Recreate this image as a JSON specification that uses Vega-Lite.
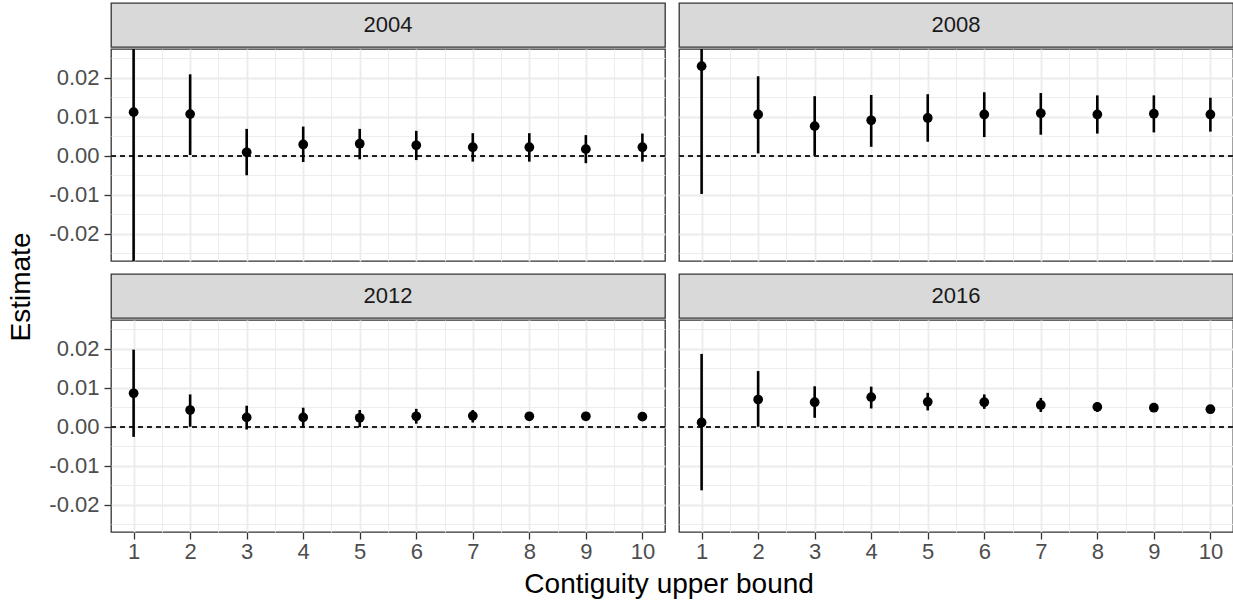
{
  "$schema": "https://vega.github.io/schema/vega-lite/v6.json",
  "padding": {"left": 8, "top": 2, "right": 1, "bottom": 0},
  "background": "white",
  "config": {"font": "Liberation Sans", "view": {"stroke": null}},
  "title": {"text": "Contiguity upper bound", "orient": "bottom", "anchor": "middle", "dx": 48, "offset": 8, "fontSize": 28, "font": "Liberation Sans", "fontWeight": "normal", "color": "black"},
  "datasets": {
    "est": [
      {"year": "2004", "x": 1, "est": 0.0112, "lo": -0.0289, "hi": 0.0513},
      {"year": "2004", "x": 2, "est": 0.0107, "lo": 0.0002, "hi": 0.0209},
      {"year": "2004", "x": 3, "est": 0.0009, "lo": -0.0050, "hi": 0.0069},
      {"year": "2004", "x": 4, "est": 0.0029, "lo": -0.0016, "hi": 0.0075},
      {"year": "2004", "x": 5, "est": 0.0031, "lo": -0.0009, "hi": 0.0069},
      {"year": "2004", "x": 6, "est": 0.0027, "lo": -0.0011, "hi": 0.0064},
      {"year": "2004", "x": 7, "est": 0.0022, "lo": -0.0015, "hi": 0.0058},
      {"year": "2004", "x": 8, "est": 0.0022, "lo": -0.0015, "hi": 0.0058},
      {"year": "2004", "x": 9, "est": 0.0017, "lo": -0.0019, "hi": 0.0053},
      {"year": "2004", "x": 10, "est": 0.0022, "lo": -0.0015, "hi": 0.0057},
      {"year": "2008", "x": 1, "est": 0.0230, "lo": -0.0098, "hi": 0.0558},
      {"year": "2008", "x": 2, "est": 0.0106, "lo": 0.0006, "hi": 0.0204},
      {"year": "2008", "x": 3, "est": 0.0076, "lo": 0.0000, "hi": 0.0153},
      {"year": "2008", "x": 4, "est": 0.0091, "lo": 0.0023, "hi": 0.0156},
      {"year": "2008", "x": 5, "est": 0.0097, "lo": 0.0036, "hi": 0.0158},
      {"year": "2008", "x": 6, "est": 0.0106, "lo": 0.0048, "hi": 0.0163},
      {"year": "2008", "x": 7, "est": 0.0109, "lo": 0.0054, "hi": 0.0161},
      {"year": "2008", "x": 8, "est": 0.0106, "lo": 0.0057, "hi": 0.0155},
      {"year": "2008", "x": 9, "est": 0.0108, "lo": 0.0060, "hi": 0.0155},
      {"year": "2008", "x": 10, "est": 0.0106, "lo": 0.0062, "hi": 0.0149},
      {"year": "2012", "x": 1, "est": 0.0086, "lo": -0.0026, "hi": 0.0198},
      {"year": "2012", "x": 2, "est": 0.0043, "lo": 0.0000, "hi": 0.0083},
      {"year": "2012", "x": 3, "est": 0.0024, "lo": -0.0007, "hi": 0.0054},
      {"year": "2012", "x": 4, "est": 0.0024, "lo": -0.0002, "hi": 0.0049},
      {"year": "2012", "x": 5, "est": 0.0023, "lo": -0.0001, "hi": 0.0043},
      {"year": "2012", "x": 6, "est": 0.0027, "lo": 0.0008, "hi": 0.0046},
      {"year": "2012", "x": 7, "est": 0.0028, "lo": 0.0011, "hi": 0.0043},
      {"year": "2012", "x": 8, "est": 0.0027, "lo": 0.0017, "hi": 0.0037},
      {"year": "2012", "x": 9, "est": 0.0027, "lo": 0.0019, "hi": 0.0034},
      {"year": "2012", "x": 10, "est": 0.0026, "lo": 0.0018, "hi": 0.0033},
      {"year": "2016", "x": 1, "est": 0.0011, "lo": -0.0163, "hi": 0.0187},
      {"year": "2016", "x": 2, "est": 0.0070, "lo": 0.0000, "hi": 0.0143},
      {"year": "2016", "x": 3, "est": 0.0063, "lo": 0.0023, "hi": 0.0104},
      {"year": "2016", "x": 4, "est": 0.0076, "lo": 0.0047, "hi": 0.0103},
      {"year": "2016", "x": 5, "est": 0.0064, "lo": 0.0042, "hi": 0.0087},
      {"year": "2016", "x": 6, "est": 0.0063, "lo": 0.0046, "hi": 0.0083},
      {"year": "2016", "x": 7, "est": 0.0056, "lo": 0.0038, "hi": 0.0074},
      {"year": "2016", "x": 8, "est": 0.0051, "lo": 0.0038, "hi": 0.0063},
      {"year": "2016", "x": 9, "est": 0.0049, "lo": 0.0038, "hi": 0.0058},
      {"year": "2016", "x": 10, "est": 0.0045, "lo": 0.0035, "hi": 0.0055}
    ]
  },
  "spacing": 12,
  "hconcat": [
    {
      "width": 22, "height": 520,
      "data": {"values": [{"t": "Estimate"}]},
      "mark": {"type": "text", "angle": 270, "fontSize": 28, "font": "Liberation Sans", "color": "black", "baseline": "middle", "align": "center", "dx": -24},
      "encoding": {"text": {"field": "t"}}
    },
    {
      "spacing": 11,
      "vconcat": [
        {
          "spacing": 10,
          "hconcat": [
            {
              "spacing": 0,
              "vconcat": [
                {
                  "width": 554, "height": 44,
                  "data": {"values": [{"year": "2004"}]},
                  "view": {"fill": "#D9D9D9", "stroke": "#333333", "strokeWidth": 1.3},
                  "mark": {"type": "text", "fontSize": 22, "font": "Liberation Sans", "color": "#1A1A1A", "baseline": "middle", "align": "center"},
                  "encoding": {"text": {"field": "year"}}
                },
                {
                  "width": 554, "height": 212,
                  "data": {"name": "est"},
                  "transform": [{"filter": "datum.year == '2004'"}],
                  "view": {"fill": "white", "stroke": "#333333", "strokeWidth": 1.3},
                  "layer": [
                    {
                      "mark": {"type": "rule", "strokeDash": [5, 4], "strokeWidth": 1.2, "color": "#222222"},
                      "encoding": {"y": {"datum": 0, "type": "quantitative", "axis": null}}
                    },
                    {
                      "mark": {"type": "rule", "strokeWidth": 2.6, "color": "black", "clip": true},
                      "encoding": {
                        "x": {"field": "x", "type": "quantitative", "scale": {"domain": [0.6, 10.4], "nice": false, "zero": false},
                          "axis": {"values": [1.5, 2.5, 3.5, 4.5, 5.5, 6.5, 7.5, 8.5, 9.5], "grid": true, "gridColor": "#EBEBEB", "gridWidth": 0.9, "domain": false, "ticks": false, "labels": false, "title": null, "orient": "top"}},
                        "y": {"field": "lo", "type": "quantitative", "scale": {"domain": [-0.0270, 0.0274], "nice": false, "zero": false},
                          "axis": {"values": [-0.025, -0.015, -0.005, 0.005, 0.015, 0.025], "grid": true, "gridColor": "#EBEBEB", "gridWidth": 0.9, "domain": false, "ticks": false, "labels": false, "title": null, "orient": "right"}},
                        "y2": {"field": "hi"}
                      }
                    },
                    {
                      "mark": {"type": "circle", "size": 95, "opacity": 1, "color": "black"},
                      "encoding": {
                        "x": {"field": "x", "type": "quantitative",
                          "axis": {"values": [1, 2, 3, 4, 5, 6, 7, 8, 9, 10], "grid": true, "gridColor": "#EBEBEB", "gridWidth": 1.8, "domain": false, "ticks": false, "labels": false, "title": null, "orient": "bottom"}},
                        "y": {"field": "est", "type": "quantitative",
                          "axis": {"values": [-0.02, -0.01, 0, 0.01, 0.02], "grid": true, "gridColor": "#EBEBEB", "gridWidth": 1.8, "domain": false, "ticks": true, "tickColor": "#333333", "tickWidth": 1.3, "tickSize": 7, "labels": true, "labelFontSize": 22, "labelFont": "Liberation Sans", "labelColor": "#4D4D4D", "labelPadding": 5, "labelFlush": false, "labelExpr": "replace(format(datum.value, '.2f'), '−', '-')", "title": null, "orient": "left"}}
                      }
                    }
                  ],
                  "resolve": {"axis": {"x": "independent", "y": "independent"}}
                }
              ]
            },
            {
              "spacing": 0,
              "vconcat": [
                {
                  "width": 554, "height": 44,
                  "data": {"values": [{"year": "2008"}]},
                  "view": {"fill": "#D9D9D9", "stroke": "#333333", "strokeWidth": 1.3},
                  "mark": {"type": "text", "fontSize": 22, "font": "Liberation Sans", "color": "#1A1A1A", "baseline": "middle", "align": "center"},
                  "encoding": {"text": {"field": "year"}}
                },
                {
                  "width": 554, "height": 212,
                  "data": {"name": "est"},
                  "transform": [{"filter": "datum.year == '2008'"}],
                  "view": {"fill": "white", "stroke": "#333333", "strokeWidth": 1.3},
                  "layer": [
                    {
                      "mark": {"type": "rule", "strokeDash": [5, 4], "strokeWidth": 1.2, "color": "#222222"},
                      "encoding": {"y": {"datum": 0, "type": "quantitative", "axis": null}}
                    },
                    {
                      "mark": {"type": "rule", "strokeWidth": 2.6, "color": "black", "clip": true},
                      "encoding": {
                        "x": {"field": "x", "type": "quantitative", "scale": {"domain": [0.6, 10.4], "nice": false, "zero": false},
                          "axis": {"values": [1.5, 2.5, 3.5, 4.5, 5.5, 6.5, 7.5, 8.5, 9.5], "grid": true, "gridColor": "#EBEBEB", "gridWidth": 0.9, "domain": false, "ticks": false, "labels": false, "title": null, "orient": "top"}},
                        "y": {"field": "lo", "type": "quantitative", "scale": {"domain": [-0.0270, 0.0274], "nice": false, "zero": false},
                          "axis": {"values": [-0.025, -0.015, -0.005, 0.005, 0.015, 0.025], "grid": true, "gridColor": "#EBEBEB", "gridWidth": 0.9, "domain": false, "ticks": false, "labels": false, "title": null, "orient": "right"}},
                        "y2": {"field": "hi"}
                      }
                    },
                    {
                      "mark": {"type": "circle", "size": 95, "opacity": 1, "color": "black"},
                      "encoding": {
                        "x": {"field": "x", "type": "quantitative",
                          "axis": {"values": [1, 2, 3, 4, 5, 6, 7, 8, 9, 10], "grid": true, "gridColor": "#EBEBEB", "gridWidth": 1.8, "domain": false, "ticks": false, "labels": false, "title": null, "orient": "bottom"}},
                        "y": {"field": "est", "type": "quantitative",
                          "axis": {"values": [-0.02, -0.01, 0, 0.01, 0.02], "grid": true, "gridColor": "#EBEBEB", "gridWidth": 1.8, "domain": false, "ticks": false, "labels": false, "title": null, "orient": "left"}}
                      }
                    }
                  ],
                  "resolve": {"axis": {"x": "independent", "y": "independent"}}
                }
              ]
            }
          ]
        },
        {
          "spacing": 10,
          "hconcat": [
            {
              "spacing": 0,
              "vconcat": [
                {
                  "width": 554, "height": 44,
                  "data": {"values": [{"year": "2012"}]},
                  "view": {"fill": "#D9D9D9", "stroke": "#333333", "strokeWidth": 1.3},
                  "mark": {"type": "text", "fontSize": 22, "font": "Liberation Sans", "color": "#1A1A1A", "baseline": "middle", "align": "center"},
                  "encoding": {"text": {"field": "year"}}
                },
                {
                  "width": 554, "height": 212,
                  "data": {"name": "est"},
                  "transform": [{"filter": "datum.year == '2012'"}],
                  "view": {"fill": "white", "stroke": "#333333", "strokeWidth": 1.3},
                  "layer": [
                    {
                      "mark": {"type": "rule", "strokeDash": [5, 4], "strokeWidth": 1.2, "color": "#222222"},
                      "encoding": {"y": {"datum": 0, "type": "quantitative", "axis": null}}
                    },
                    {
                      "mark": {"type": "rule", "strokeWidth": 2.6, "color": "black", "clip": true},
                      "encoding": {
                        "x": {"field": "x", "type": "quantitative", "scale": {"domain": [0.6, 10.4], "nice": false, "zero": false},
                          "axis": {"values": [1.5, 2.5, 3.5, 4.5, 5.5, 6.5, 7.5, 8.5, 9.5], "grid": true, "gridColor": "#EBEBEB", "gridWidth": 0.9, "domain": false, "ticks": false, "labels": false, "title": null, "orient": "top"}},
                        "y": {"field": "lo", "type": "quantitative", "scale": {"domain": [-0.0270, 0.0274], "nice": false, "zero": false},
                          "axis": {"values": [-0.025, -0.015, -0.005, 0.005, 0.015, 0.025], "grid": true, "gridColor": "#EBEBEB", "gridWidth": 0.9, "domain": false, "ticks": false, "labels": false, "title": null, "orient": "right"}},
                        "y2": {"field": "hi"}
                      }
                    },
                    {
                      "mark": {"type": "circle", "size": 95, "opacity": 1, "color": "black"},
                      "encoding": {
                        "x": {"field": "x", "type": "quantitative",
                          "axis": {"values": [1, 2, 3, 4, 5, 6, 7, 8, 9, 10], "grid": true, "gridColor": "#EBEBEB", "gridWidth": 1.8, "domain": false, "ticks": true, "tickColor": "#333333", "tickWidth": 1.3, "tickSize": 7, "labels": true, "labelFontSize": 22, "labelFont": "Liberation Sans", "labelColor": "#4D4D4D", "labelPadding": 2, "labelFlush": false, "title": null, "orient": "bottom"}},
                        "y": {"field": "est", "type": "quantitative",
                          "axis": {"values": [-0.02, -0.01, 0, 0.01, 0.02], "grid": true, "gridColor": "#EBEBEB", "gridWidth": 1.8, "domain": false, "ticks": true, "tickColor": "#333333", "tickWidth": 1.3, "tickSize": 7, "labels": true, "labelFontSize": 22, "labelFont": "Liberation Sans", "labelColor": "#4D4D4D", "labelPadding": 5, "labelFlush": false, "labelExpr": "replace(format(datum.value, '.2f'), '−', '-')", "title": null, "orient": "left"}}
                      }
                    }
                  ],
                  "resolve": {"axis": {"x": "independent", "y": "independent"}}
                }
              ]
            },
            {
              "spacing": 0,
              "vconcat": [
                {
                  "width": 554, "height": 44,
                  "data": {"values": [{"year": "2016"}]},
                  "view": {"fill": "#D9D9D9", "stroke": "#333333", "strokeWidth": 1.3},
                  "mark": {"type": "text", "fontSize": 22, "font": "Liberation Sans", "color": "#1A1A1A", "baseline": "middle", "align": "center"},
                  "encoding": {"text": {"field": "year"}}
                },
                {
                  "width": 554, "height": 212,
                  "data": {"name": "est"},
                  "transform": [{"filter": "datum.year == '2016'"}],
                  "view": {"fill": "white", "stroke": "#333333", "strokeWidth": 1.3},
                  "layer": [
                    {
                      "mark": {"type": "rule", "strokeDash": [5, 4], "strokeWidth": 1.2, "color": "#222222"},
                      "encoding": {"y": {"datum": 0, "type": "quantitative", "axis": null}}
                    },
                    {
                      "mark": {"type": "rule", "strokeWidth": 2.6, "color": "black", "clip": true},
                      "encoding": {
                        "x": {"field": "x", "type": "quantitative", "scale": {"domain": [0.6, 10.4], "nice": false, "zero": false},
                          "axis": {"values": [1.5, 2.5, 3.5, 4.5, 5.5, 6.5, 7.5, 8.5, 9.5], "grid": true, "gridColor": "#EBEBEB", "gridWidth": 0.9, "domain": false, "ticks": false, "labels": false, "title": null, "orient": "top"}},
                        "y": {"field": "lo", "type": "quantitative", "scale": {"domain": [-0.0270, 0.0274], "nice": false, "zero": false},
                          "axis": {"values": [-0.025, -0.015, -0.005, 0.005, 0.015, 0.025], "grid": true, "gridColor": "#EBEBEB", "gridWidth": 0.9, "domain": false, "ticks": false, "labels": false, "title": null, "orient": "right"}},
                        "y2": {"field": "hi"}
                      }
                    },
                    {
                      "mark": {"type": "circle", "size": 95, "opacity": 1, "color": "black"},
                      "encoding": {
                        "x": {"field": "x", "type": "quantitative",
                          "axis": {"values": [1, 2, 3, 4, 5, 6, 7, 8, 9, 10], "grid": true, "gridColor": "#EBEBEB", "gridWidth": 1.8, "domain": false, "ticks": true, "tickColor": "#333333", "tickWidth": 1.3, "tickSize": 7, "labels": true, "labelFontSize": 22, "labelFont": "Liberation Sans", "labelColor": "#4D4D4D", "labelPadding": 2, "labelFlush": false, "title": null, "orient": "bottom"}},
                        "y": {"field": "est", "type": "quantitative",
                          "axis": {"values": [-0.02, -0.01, 0, 0.01, 0.02], "grid": true, "gridColor": "#EBEBEB", "gridWidth": 1.8, "domain": false, "ticks": false, "labels": false, "title": null, "orient": "left"}}
                      }
                    }
                  ],
                  "resolve": {"axis": {"x": "independent", "y": "independent"}}
                }
              ]
            }
          ]
        }
      ]
    }
  ]
}
